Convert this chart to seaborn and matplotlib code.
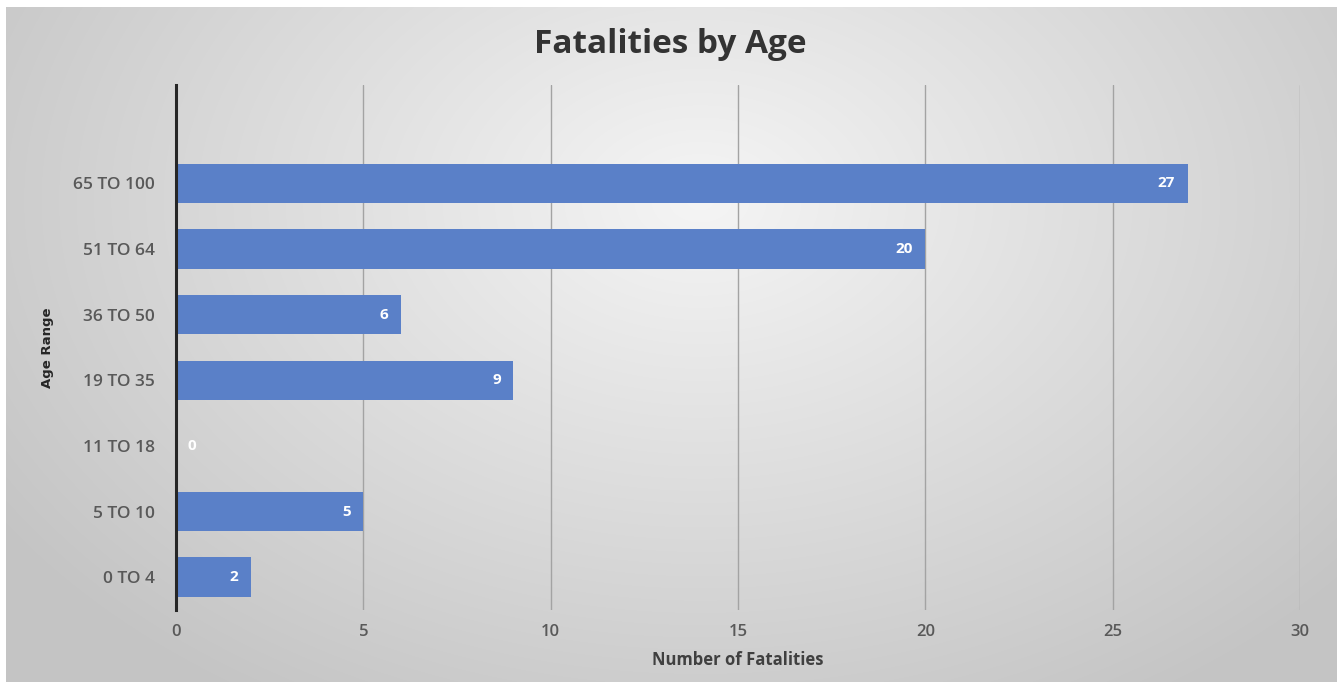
import numpy as np
import pandas as pd
import seaborn as sns
import matplotlib.pyplot as plt

age_ranges = ["65 TO 100", "51 TO 64", "36 TO 50", "19 TO 35", "11 TO 18", "5 TO 10", "0 TO 4"]
fatalities = [27, 20, 6, 9, 0, 5, 2]
x_ticks = [0, 5, 10, 15, 20, 25, 30]

df = pd.DataFrame({"age": age_ranges, "fatalities": fatalities})

sns.set_theme(style="white")
plt.rcParams["font.family"] = ["Open Sans", "DejaVu Sans"]

fig = plt.figure(figsize=(13.37, 6.82), dpi=100)

# radial grey gradient panel behind the chart
bg = fig.add_axes([0, 0, 1, 1], zorder=-10)
h, w = 682, 1337
yy, xx = np.mgrid[0:h, 0:w]
r = np.sqrt(((xx - 700) / 800.0) ** 2 + ((yy - 200) / 560.0) ** 2)
shade = np.clip(0.96 - 0.18 * r, 0.77, 0.96)
img = np.dstack([shade, shade, shade])
img[:7, :, :] = 1.0
img[:, :6, :] = 1.0
bg.imshow(img, aspect="auto", interpolation="bilinear")
bg.axis("off")

ax = fig.add_axes([0.1316, 0.1056, 0.8407, 0.7698])
ax.patch.set_alpha(0)

sns.barplot(data=df, x="fatalities", y="age", orient="h", order=age_ranges,
            color="#5a80c8", saturation=1, width=0.6, linewidth=0, ax=ax)

ax.set_xlim(0, 30)
ax.set_ylim(6.5, -1.5)
ax.set_xticks(x_ticks)
ax.xaxis.grid(True, color="#a3a3a3", linewidth=1.0)
ax.set_axisbelow(True)

for side in ["top", "right", "bottom"]:
    ax.spines[side].set_visible(False)
ax.spines["left"].set_color("#262626")
ax.spines["left"].set_linewidth(2.2)
ax.spines["left"].set_zorder(5)

ax.tick_params(axis="x", length=0, pad=10, labelsize=12, labelcolor="#595959")
ax.tick_params(axis="y", length=0, pad=15, labelsize=12.5, labelcolor="#595959")
for lab in ax.get_xticklabels() + ax.get_yticklabels():
    lab.set_fontweight("semibold")

for i, v in enumerate(fatalities):
    if v > 0:
        ax.annotate(str(v), (v, i), xytext=(-9, 0), textcoords="offset points",
                    ha="right", va="center", color="white", fontsize=11, fontweight="bold")
    else:
        ax.annotate(str(v), (v, i), xytext=(8, 0), textcoords="offset points",
                    ha="left", va="center", color="white", fontsize=11, fontweight="bold")

ax.set_xlabel("Number of Fatalities", fontsize=12, fontweight="bold", color="#404040", labelpad=8)
ax.set_ylabel("Age Range", fontsize=9.5, fontweight="bold", color="#262626", labelpad=14,
              family=["Liberation Sans Narrow", "DejaVu Sans"])

fig.text(0.501, 0.935, "Fatalities by Age", ha="center", va="center",
         fontsize=24, fontweight="bold", color="#333333")

fig.savefig("out.png", dpi=100)
